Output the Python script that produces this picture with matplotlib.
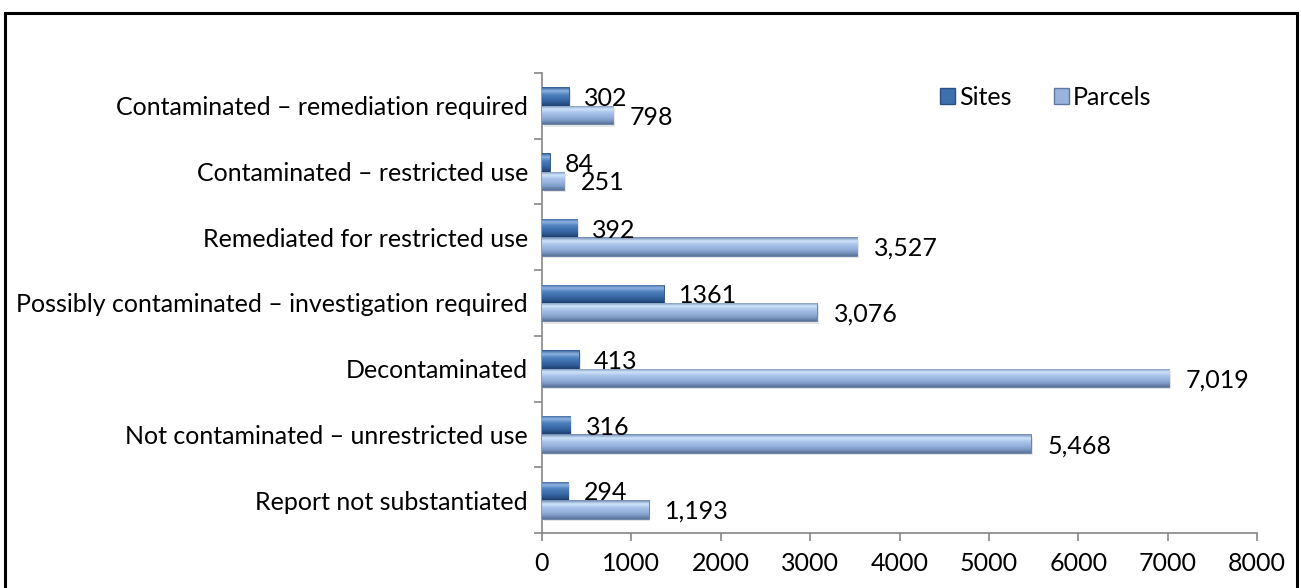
import numpy as np
import matplotlib
matplotlib.use("Agg")
import matplotlib.pyplot as plt
from matplotlib.patches import Rectangle, Patch
from matplotlib.colors import LinearSegmentedColormap

plt.rcParams['font.family'] = ['Lato', 'DejaVu Sans']

# Categories listed top to bottom
categories = [
    "Contaminated \u2013 remediation required",
    "Contaminated \u2013 restricted use",
    "Remediated for restricted use",
    "Possibly contaminated \u2013 investigation required",
    "Decontaminated",
    "Not contaminated \u2013 unrestricted use",
    "Report not substantiated",
]
sites = [302, 84, 392, 1361, 413, 316, 294]
parcels = [798, 251, 3527, 3076, 7019, 5468, 1193]
site_labels = ["302", "84", "392", "1361", "413", "316", "294"]
parcel_labels = ["798", "251", "3,527", "3,076", "7,019", "5,468", "1,193"]
x_ticks = [0, 1000, 2000, 3000, 4000, 5000, 6000, 7000, 8000]

FS = 18
site_grad = ["#2F5A90", "#8DB4E3", "#4F81BD", "#3F70AE", "#2F5C97", "#1F416F"]
parcel_grad = ["#6C87B0", "#CFE4FA", "#A9C4EA", "#98B4DE", "#7F9CC8", "#5A7399"]

fig = plt.figure(figsize=(13.01, 5.88), dpi=100)
ax = fig.add_axes([0.4166, 0.0935, 0.5496, 0.7824])

n = len(categories)
ypos = np.arange(n)[::-1].astype(float)
h = 0.28


def bevel_fill(bars, colors):
    cmap = LinearSegmentedColormap.from_list("bevel", colors)
    grad = np.linspace(0, 1, 64).reshape(-1, 1)
    for b in bars:
        x0, y0 = b.get_x(), b.get_y()
        w, hh = b.get_width(), b.get_height()
        im = ax.imshow(grad, cmap=cmap, extent=[x0, x0 + w, y0, y0 + hh],
                       origin="upper", aspect="auto", zorder=3,
                       interpolation="bilinear")
        im.set_clip_path(b)
        # soft drop shadow under each bar
        ax.add_patch(Rectangle((x0 + 20, y0 - 0.035), w, hh, facecolor="#000000",
                               alpha=0.10, edgecolor="none", zorder=2))


bs = ax.barh(ypos + h / 2, sites, height=h, color=site_grad[3],
             edgecolor="#2A4F80", linewidth=0.6, zorder=3)
bp = ax.barh(ypos - h / 2, parcels, height=h, color=parcel_grad[3],
             edgecolor="#5F789F", linewidth=0.6, zorder=3)
bevel_fill(bs, site_grad)
bevel_fill(bp, parcel_grad)

for b, lab in zip(bs, site_labels):
    ax.annotate(lab, (b.get_width(), b.get_y() + b.get_height() / 2),
                xytext=(11, 0), textcoords="offset points",
                ha="left", va="center_baseline", fontsize=FS, zorder=5)
for b, lab in zip(bp, parcel_labels):
    ax.annotate(lab, (b.get_width(), b.get_y() + b.get_height() / 2),
                xytext=(12, 0), textcoords="offset points",
                ha="left", va="center_baseline", fontsize=FS, zorder=5)

ax.set_xlim(0, 8000)
ax.set_ylim(-0.5, n - 0.5)
ax.set_xticks(x_ticks)
ax.set_xticklabels([str(t) for t in x_ticks], fontsize=FS)
ax.set_yticks(ypos)
ax.set_yticklabels(categories, fontsize=FS)
ax.set_yticks(np.arange(-0.5, n, 1.0), minor=True)
ax.tick_params(axis="y", which="major", length=0, pad=10)
ax.tick_params(axis="y", which="minor", length=6, color="#868686", width=1.2)
ax.tick_params(axis="x", length=6, color="#868686", width=1.2, pad=8)

for side in ("top", "right"):
    ax.spines[side].set_visible(False)
for side in ("left", "bottom"):
    ax.spines[side].set_color("#868686")
    ax.spines[side].set_linewidth(1.2)

handles = [Patch(facecolor=site_grad[3], edgecolor="#2A4F80", label="Sites"),
           Patch(facecolor=parcel_grad[3], edgecolor="#5F789F", label="Parcels")]
fig.legend(handles=handles, loc="center left", bbox_to_anchor=(0.709, 0.835),
           ncol=2, frameon=False, fontsize=FS, handlelength=0.6,
           handleheight=0.6, handletextpad=0.15, columnspacing=1.7,
           borderpad=0.2)

# outer chart border
fig.patches.append(Rectangle((5 / 1301, -0.05), 1292 / 1301, 1.05 - 13 / 588,
                             transform=fig.transFigure, fill=False,
                             edgecolor="black", linewidth=2.2))

fig.savefig("out.png", dpi=100)
